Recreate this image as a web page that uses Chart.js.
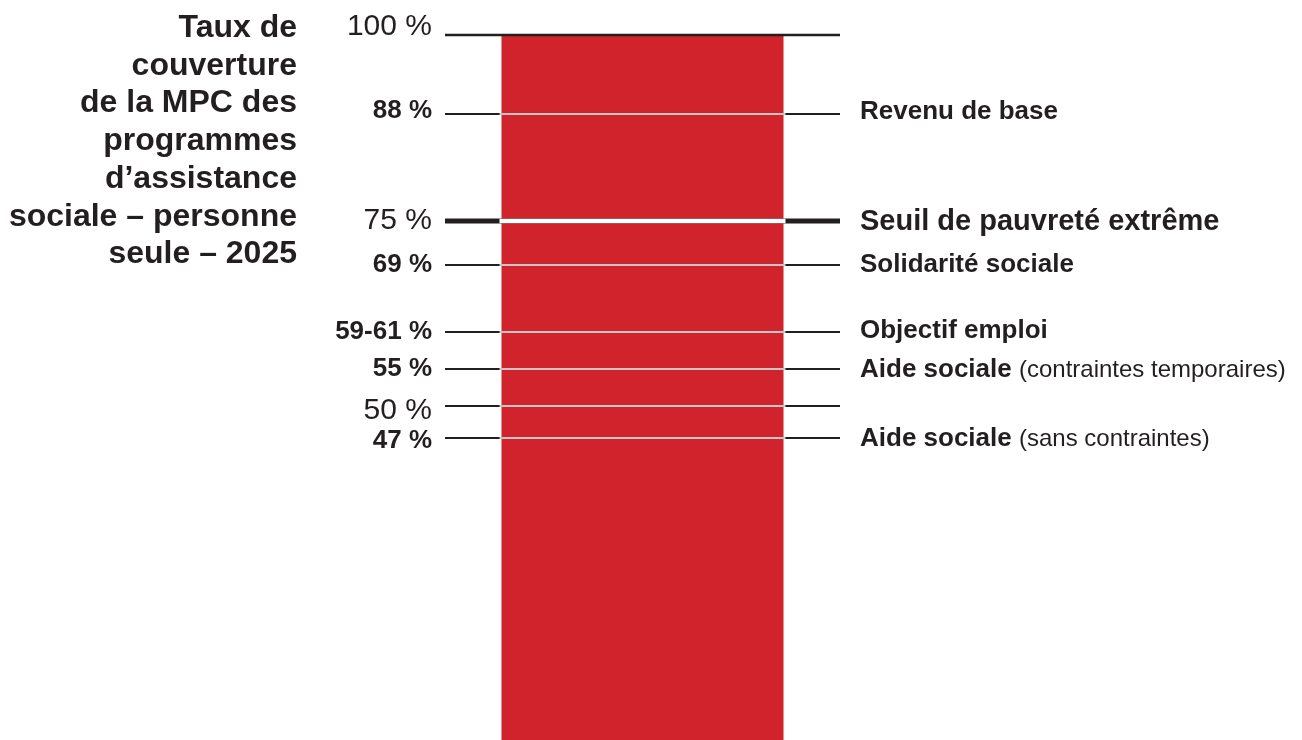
<!DOCTYPE html>
<html lang="fr">
<head>
<meta charset="utf-8">
<script src="https://cdn.jsdelivr.net/npm/chart.js@4.4.1/dist/chart.umd.min.js"></script>
<style>
  html, body { margin: 0; padding: 0; background: #ffffff; }
  #wrap { width: 1302px; height: 740px; position: relative; }
</style>
</head>
<body>
<div id="wrap"><canvas id="c"></canvas></div>
<script>
// ---- Data ----
const categories = ['Personne seule – 2025'];
const barValues = [100];
// Positions of the reference lines as drawn in the picture (% of MPC)
const lineValues = [100, 89.4, 75, 69, 60, 55, 50, 45.7];
const lineLabels = ['100 %', '88 %', '75 %', '69 %', '59-61 %', '55 %', '50 %', '47 %'];
const programNames = ['', 'Revenu de base', 'Seuil de pauvreté extrême', 'Solidarité sociale', 'Objectif emploi', 'Aide sociale', '', 'Aide sociale'];
const programNotes = ['', '', '', '', '', '(contraintes temporaires)', '', '(sans contraintes)'];
const titleLines = ['Taux de', 'couverture', 'de la MPC des', 'programmes', 'd’assistance', 'sociale – personne', 'seule – 2025'];

// ---- Styles ----
const FONT = '"Liberation Sans", Arial, Helvetica, sans-serif';
const RED = '#d0232b';
const INK = '#231f20';
// per-line styling: kind 'ref' = scale reference (regular text), 'prog' = program (bold text)
const lineStyle = [
  { kind: 'ref', width: 2.5, white: false, dyL: 0, dyR: 0 },
  { kind: 'prog', width: 2, white: true, dyL: 4, dyR: 5 },
  { kind: 'ref', width: 5, white: true, dyL: 8, dyR: 9, bigRight: true },
  { kind: 'prog', width: 2, white: true, dyL: 7, dyR: 7 },
  { kind: 'prog', width: 2, white: true, dyL: 7, dyR: 6 },
  { kind: 'prog', width: 2, white: true, dyL: 6.5, dyR: 7.5 },
  { kind: 'ref', width: 2, white: true, dyL: 13, dyR: 0 },
  { kind: 'prog', width: 2, white: true, dyL: 9.5, dyR: 7.5 }
];

const overlay = {
  id: 'overlay',
  afterDatasetsDraw(chart) {
    const ctx = chart.ctx;
    const y = chart.scales.y;
    const area = chart.chartArea;
    const bar = chart.getDatasetMeta(0).data[0];
    const bL = bar.x - bar.width / 2, bR = bar.x + bar.width / 2;
    ctx.save();
    lineValues.forEach((v, i) => {
      const st = lineStyle[i];
      const py = Math.round(y.getPixelForValue(v));
      ctx.lineCap = 'butt';
      ctx.strokeStyle = INK;
      ctx.lineWidth = st.width;
      ctx.beginPath();
      ctx.moveTo(area.left, py);
      ctx.lineTo(area.right, py);
      ctx.stroke();
      if (st.white) {
        ctx.strokeStyle = '#ffffff';
        ctx.lineWidth = st.width - 0.5;
        ctx.beginPath();
        ctx.moveTo(bL - 2, py);
        ctx.lineTo(bR + 2, py);
        ctx.stroke();
      }
      // left label
      ctx.fillStyle = INK;
      ctx.textAlign = 'right';
      ctx.textBaseline = 'alphabetic';
      ctx.font = st.kind === 'ref' ? ('30px ' + FONT) : ('bold 26px ' + FONT);
      ctx.fillText(lineLabels[i], area.left - 13, py + st.dyL);
      // right label
      if (programNames[i]) {
        ctx.textAlign = 'left';
        ctx.font = (st.bigRight ? 'bold 29px ' : 'bold 26px ') + FONT;
        const rx = area.right + 20;
        ctx.fillText(programNames[i], rx, py + st.dyR);
        if (programNotes[i]) {
          const w = ctx.measureText(programNames[i] + ' ').width;
          ctx.font = '24px ' + FONT;
          ctx.fillText(programNotes[i], rx + w, py + st.dyR);
        }
      }
    });
    // title
    ctx.fillStyle = INK;
    ctx.textAlign = 'right';
    ctx.font = 'bold 32px ' + FONT;
    titleLines.forEach((t, i) => {
      ctx.fillText(t, 297, 37 + i * 37.7);
    });
    ctx.restore();
  }
};

new Chart(document.getElementById('c'), {
  type: 'bar',
  data: {
    labels: categories,
    datasets: [{
      data: barValues,
      backgroundColor: RED,
      borderWidth: 0,
      categoryPercentage: 282 / 395,
      barPercentage: 1
    }]
  },
  options: {
    responsive: true,
    maintainAspectRatio: false,
    animation: false,
    layout: { padding: { left: 445, right: 462, top: 35, bottom: 0 } },
    plugins: { legend: { display: false }, tooltip: { enabled: false }, title: { display: false } },
    scales: {
      x: { display: false },
      y: { display: false, min: 5, max: 100 }
    }
  },
  plugins: [overlay]
});
</script>
</body>
</html>
